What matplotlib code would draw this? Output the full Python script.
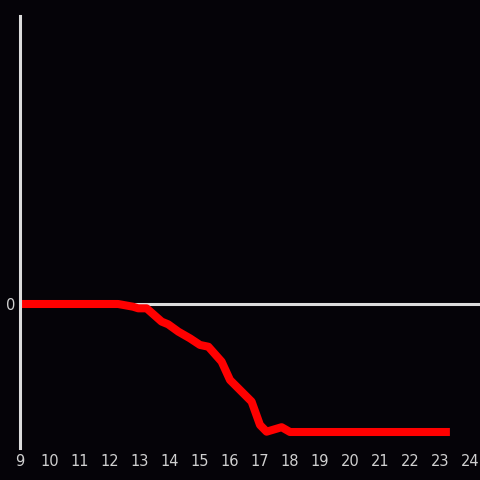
import matplotlib
matplotlib.use("Agg")
import matplotlib.pyplot as plt

# values
hours = [9.0, 12.27, 12.77, 12.94, 13.22, 13.72, 13.94, 14.28, 14.67, 15.0, 15.28,
         15.72, 16.0, 16.72, 17.0, 17.22, 17.72, 18.0, 23.33]
values = [0.0, 0.0, -0.17, -0.27, -0.27, -1.1, -1.27, -1.73, -2.15, -2.56, -2.67,
          -3.6, -4.75, -6.1, -7.56, -7.98, -7.7, -8.0, -8.0]
xticks = list(range(9, 25))

BG = "#050308"
AXIS = "#dcdcdc"

fig = plt.figure(figsize=(4.8, 4.8), dpi=100, facecolor=BG)
ax = fig.add_axes([20 / 480, 32 / 480, 460 / 480, 432 / 480])
ax.set_facecolor(BG)

ax.axhline(0, color=AXIS, lw=2.2, zorder=1)
ax.plot(hours, values, color="#ff0000", lw=5.8, solid_joinstyle="round",
        solid_capstyle="butt", zorder=2)

ax.set_xlim(9, 9 + 460 / 30)
ax.set_ylim(-9, 18)
ax.set_xticks(xticks)
ax.set_yticks([0])
ax.tick_params(length=0, colors="#d0d0d0", labelsize=10.5, pad=4)
ax.tick_params(axis="y", pad=3)

for side in ("top", "right", "bottom"):
    ax.spines[side].set_visible(False)
ax.spines["left"].set_color(AXIS)
ax.spines["left"].set_linewidth(2.2)

fig.savefig("out.png", dpi=100, facecolor=BG)
